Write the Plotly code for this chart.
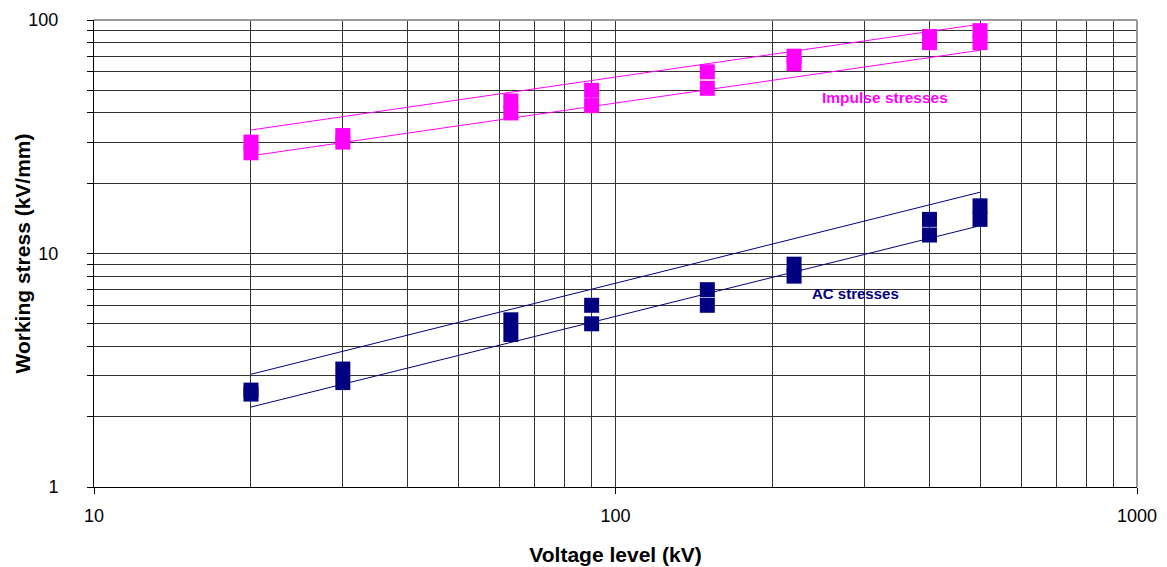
import math
import plotly.graph_objects as go

# Data
voltage = [20, 30, 63, 90, 150, 220, 400, 500]
impulse_high = [30, 32, 45, 50, 60, 70, 85, 90]
impulse_low = [27, 30, 40, 43, 51, 65, 80, 80]
ac_high = [2.6, 3.2, 5.2, 6, 7, 9, 14, 16]
ac_low = [2.5, 2.8, 4.5, 5, 6, 8, 12, 14]

trend_x = [20, 500]
impulse_upper = [33.8, 96]
impulse_lower = [26.2, 74.2]
ac_upper = [3.04, 18.3]
ac_lower = [2.2, 13.15]

x_major = [10, 100, 1000]
x_minor = [20, 30, 40, 50, 60, 70, 80, 90, 200, 300, 400, 500, 600, 700, 800, 900]
y_major = [1, 10, 100]
y_minor = [2, 3, 4, 5, 6, 7, 8, 9, 20, 30, 40, 50, 60, 70, 80, 90]

# label anchor positions (data units)
impulse_label = (329, 46.5)
ac_label = (289, 6.75)

MAGENTA = "#FF00FF"
NAVY = "#000080"
FONT = "Liberation Sans, Arial, sans-serif"
GRID = "#333333"

fig = go.Figure()

for yv in (impulse_high, impulse_low):
    fig.add_trace(go.Scatter(x=voltage, y=yv, mode="markers",
                             marker=dict(symbol="square", size=15, color=MAGENTA, line=dict(width=0)),
                             showlegend=False, hoverinfo="x+y"))
for yv in (ac_high, ac_low):
    fig.add_trace(go.Scatter(x=voltage, y=yv, mode="markers",
                             marker=dict(symbol="square", size=15, color=NAVY, line=dict(width=0)),
                             showlegend=False, hoverinfo="x+y"))

for yv in (impulse_upper, impulse_lower):
    fig.add_trace(go.Scatter(x=trend_x, y=yv, mode="lines",
                             line=dict(color=MAGENTA, width=1), showlegend=False, hoverinfo="skip"))
for yv in (ac_upper, ac_lower):
    fig.add_trace(go.Scatter(x=trend_x, y=yv, mode="lines",
                             line=dict(color=NAVY, width=1), showlegend=False, hoverinfo="skip"))

fig.add_annotation(x=math.log10(impulse_label[0]), y=math.log10(impulse_label[1]),
                   xref="x", yref="y", text="Impulse stresses",
                   showarrow=False, font=dict(family=FONT, size=15.5, color=MAGENTA, weight="bold"),
                   xanchor="center", yanchor="middle")
fig.add_annotation(x=math.log10(ac_label[0]), y=math.log10(ac_label[1]),
                   xref="x", yref="y", text="AC stresses", showarrow=False,
                   font=dict(family=FONT, size=15, color=NAVY, weight="bold"),
                   xanchor="center", yanchor="middle")

# Y axis title as rotated text
fig.add_annotation(x=-72 / 1043, y=0.5, xref="paper", yref="paper",
                   text="<b>Working stress (kV/mm)</b>", textangle=-90, showarrow=False,
                   font=dict(family=FONT, size=21, color="black"),
                   xanchor="center", yanchor="middle")

# Border top/right (gray)
fig.add_shape(type="line", xref="paper", yref="paper", x0=0, x1=1, y0=1, y1=1,
              line=dict(color="#999999", width=2))
fig.add_shape(type="line", xref="paper", yref="paper", x0=1, x1=1, y0=0, y1=1,
              line=dict(color="#999999", width=2))

fig.update_layout(
    width=1167, height=567,
    margin=dict(l=94, r=30, t=20, b=80),
    paper_bgcolor="white", plot_bgcolor="white",
    font=dict(family=FONT, size=18, color="black"),
    showlegend=False,
)

fig.update_xaxes(
    type="log", range=[1, 3], automargin=False,
    tickmode="array", tickvals=x_major, ticktext=[str(v) for v in x_major],
    ticks="outside", ticklen=6, tickcolor="black", ticklabelstandoff=6,
    showgrid=True, gridcolor=GRID, gridwidth=1,
    showline=True, linecolor="black", linewidth=1,
    zeroline=False,
    minor=dict(tickmode="array", tickvals=x_minor, showgrid=True, gridcolor=GRID, gridwidth=1, ticks=""),
    title=dict(text="<b>Voltage level (kV)</b>", font=dict(family=FONT, size=21), standoff=22),
    tickfont=dict(family=FONT, size=18),
)
fig.update_yaxes(
    type="log", range=[0, 2], automargin=False,
    tickmode="array", tickvals=y_major, ticktext=[str(v) for v in y_major],
    ticks="outside", ticklen=6, tickcolor="black", ticklabelstandoff=25,
    showgrid=True, gridcolor=GRID, gridwidth=1,
    showline=True, linecolor="black", linewidth=1,
    zeroline=False,
    minor=dict(tickmode="array", tickvals=y_minor, showgrid=True, gridcolor=GRID, gridwidth=1,
               ticks="outside", ticklen=6, tickcolor="black"),
    tickfont=dict(family=FONT, size=18),
)

fig.write_html("out.html")
